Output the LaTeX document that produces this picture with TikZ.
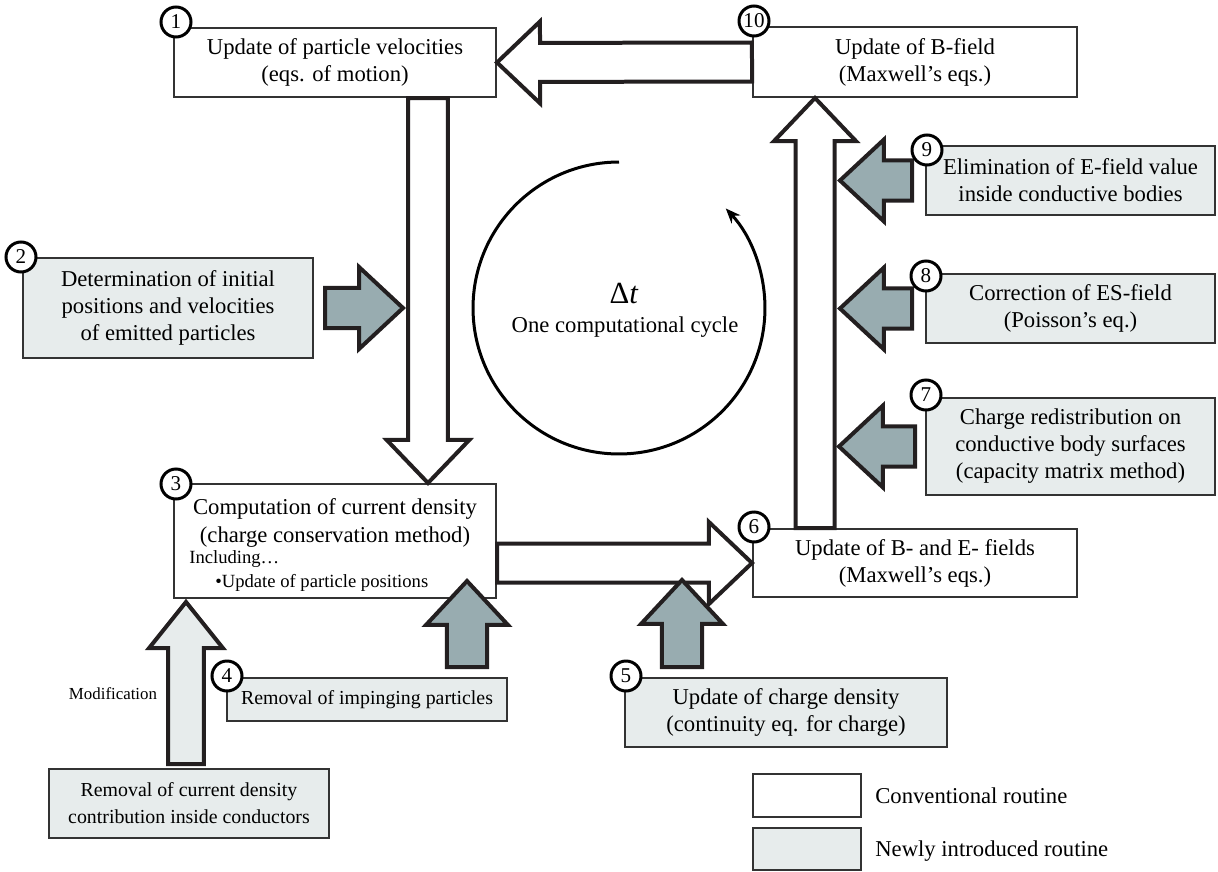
\documentclass[tikz,border=0pt]{standalone}
\usepackage{fontspec}
\setmainfont{Liberation Serif}
\usetikzlibrary{calc,arrows.meta}
\definecolor{lightfill}{RGB}{231,236,236}
\definecolor{grayarrow}{RGB}{152,172,176}
\definecolor{edgecol}{RGB}{35,31,32}
\newcommand\mainsz{\fontsize{12.9}{15.4}\selectfont}
\newcommand\midsz{\fontsize{11.3}{15.4}\selectfont}
\newcommand\smallsz{\fontsize{10.6}{12}\selectfont}
% block arrow: style, from, to, shaft half, head half, head length
\newcommand\blockarrow[6]{%
  \filldraw[#1] let \p1=(#2), \p2=(#3),
    \n1={atan2(\y2-\y1,\x2-\x1)}, \n2={veclen(\x2-\x1,\y2-\y1)}
  in [shift={(\p1)}, rotate=\n1]
  (0pt,-#4) -- ({\n2*1pt-#6},-#4) -- ({\n2*1pt-#6},-#5) -- ({\n2*1pt},0pt)
  -- ({\n2*1pt-#6},#5) -- ({\n2*1pt-#6},#4) -- (0pt,#4) -- cycle;}
% box from corners: style, name, x1, y1, x2, y2, text
\newcommand\boxnode[7]{%
  \node[#1, minimum width={(#5-#3)*0.02cm}, minimum height={(#6-#4)*0.02cm}]
    (#2) at ({(#3+#5)/2},{(#4+#6)/2}) {#7};}
\begin{document}
\begin{tikzpicture}[x=0.02cm,y=-0.02cm,
  every node/.style={font=\mainsz},
  box/.style={draw=black!80, line width=0.04cm, inner sep=0pt, align=center},
  newbox/.style={box, fill=lightfill},
  hollow/.style={draw=edgecol, line width=0.08cm, fill=white, line join=miter},
  grayarr/.style={draw=edgecol, line width=0.08cm, fill=grayarrow, line join=miter},
  modarr/.style={draw=edgecol, line width=0.08cm, fill=lightfill, line join=miter},
  num/.style={circle, draw=black, line width=0.06cm, fill=white, minimum size=0.6cm,
    inner sep=0pt, font=\fontsize{12}{12}\selectfont},
  txt/.style={inner sep=0pt},
  cyc/.style={line width=0.06cm, -{Stealth[length=0.3cm,width=0.24cm]}}]
\useasboundingbox (0,0) rectangle (1218,872);

% conventional routines
\boxnode{box}{b1}{174}{28}{496}{97}{Update of particle velocities\\(eqs. of motion)}
\boxnode{box}{b10}{753}{27}{1077}{97}{Update of B-field\\(Maxwell’s eqs.)}
\boxnode{box}{b3}{174}{484}{496}{598}{}
\boxnode{box}{b6}{753}{529}{1077}{597}{Update of B- and E- fields\\(Maxwell’s eqs.)}

% newly introduced routines
\boxnode{newbox}{b2}{23}{258}{313}{358}{Determination of initial\\positions and velocities\\of emitted particles}
\boxnode{newbox}{b9}{926}{146}{1215}{215}{Elimination of E-field value\\inside conductive bodies}
\boxnode{newbox}{b8}{926}{274}{1215}{343}{Correction of ES-field\\(Poisson’s eq.)}
\boxnode{newbox}{b7}{926}{398}{1215}{495}{Charge redistribution on\\conductive body surfaces\\(capacity matrix method)}
\boxnode{newbox, font=\midsz}{b4}{227}{678}{507}{721}{Removal of impinging particles}
\boxnode{newbox}{b5}{625}{678}{947}{747}{Update of charge density\\(continuity eq. for charge)}
\boxnode{newbox, font=\midsz}{bm}{49}{769}{329}{838}{Removal of current density\\contribution inside conductors}

% box 3 text
\node[txt, anchor=base] (b3a) at (335,514) {Computation of current density};
\node[txt, anchor=base] (b3b) at (335,542) {(charge conservation method)};
\node[txt, anchor=base west, font=\smallsz] (b3c) at (189,563) {Including…};
\node[txt, anchor=base west, font=\smallsz] (b3d) at (215,587) {•Update of particle positions};

% helper coordinates
\coordinate (c13) at (428,0);
\coordinate (c610) at (815,0);
\coordinate (g2s) at (325,308);
\coordinate (g2e) at (403,308);
\coordinate (g9e) at (840,180.5);
\coordinate (g8e) at (840,308.5);
\coordinate (g7e) at (839,446.5);
\coordinate (g4s) at (467,667);
\coordinate (g4e) at (467,581);
\coordinate (g5s) at (682,667);
\coordinate (g5e) at (682,580);
\coordinate (gms) at (186,764);
\coordinate (gme) at (186,602);

% hollow (conventional) arrows
\blockarrow{hollow}{b10.west}{b1.east}{11.1pt}{23.3pt}{24.5pt}
\blockarrow{hollow}{b1.south -| c13}{b3.north -| c13}{11.3pt}{23.5pt}{24.5pt}
\blockarrow{hollow}{b3.east |- b6.west}{b6.west}{11.1pt}{23.3pt}{24.5pt}
\blockarrow{hollow}{b6.north -| c610}{b10.south -| c610}{11.1pt}{23.3pt}{24.5pt}

% gray arrows
\blockarrow{grayarr}{g2s}{g2e}{11.4pt}{23.3pt}{25pt}
\blockarrow{grayarr}{$(b9.west)+(-13,0)$}{g9e}{11.4pt}{23.3pt}{25pt}
\blockarrow{grayarr}{$(b8.west)+(-13,0)$}{g8e}{11.4pt}{23.3pt}{25pt}
\blockarrow{grayarr}{$(b7.west)+(-10,0)$}{g7e}{11.4pt}{23.3pt}{25pt}
\blockarrow{grayarr}{g4s}{g4e}{11.4pt}{23.3pt}{25pt}
\blockarrow{grayarr}{g5s}{g5e}{11.4pt}{23.3pt}{25pt}
\blockarrow{modarr}{gms}{gme}{10.2pt}{21pt}{26.2pt}

% cycle
\coordinate (cc) at (619,308);
\draw[cyc] ([shift={(90:2.92cm)}]cc) arc[start angle=90, end angle=403, radius=2.92cm];
\node[txt, anchor=base] (dt) at (624,303) {\fontsize{17.5}{20}\selectfont Δ\textit{t}};
\node[txt, anchor=base] (oc) at (625,332) {One computational cycle};

\node[txt, anchor=base, font=\fontsize{9.6}{11}\selectfont] (mod) at (113,699) {Modification};

% number circles
\node[num] (n1) at (176,22) {1};
\node[num] (n10) at (754,21) {10};
\node[num] (n2) at (21,257) {2};
\node[num] (n3) at (176,484) {3};
\node[num] (n9) at (927,150) {9};
\node[num] (n8) at (926,276) {8};
\node[num] (n7) at (926,395) {7};
\node[num] (n6) at (754,527) {6};
\node[num] (n4) at (227,676) {4};
\node[num] (n5) at (626,676) {5};

% legend
\boxnode{box}{la}{753}{774}{861}{817}{}
\boxnode{newbox}{lb}{753}{828}{861}{870}{}
\node[txt, anchor=base west] (lat) at (875,803) {Conventional routine};
\node[txt, anchor=base west] (lbt) at (875,856) {Newly introduced routine};
\end{tikzpicture}
\end{document}
